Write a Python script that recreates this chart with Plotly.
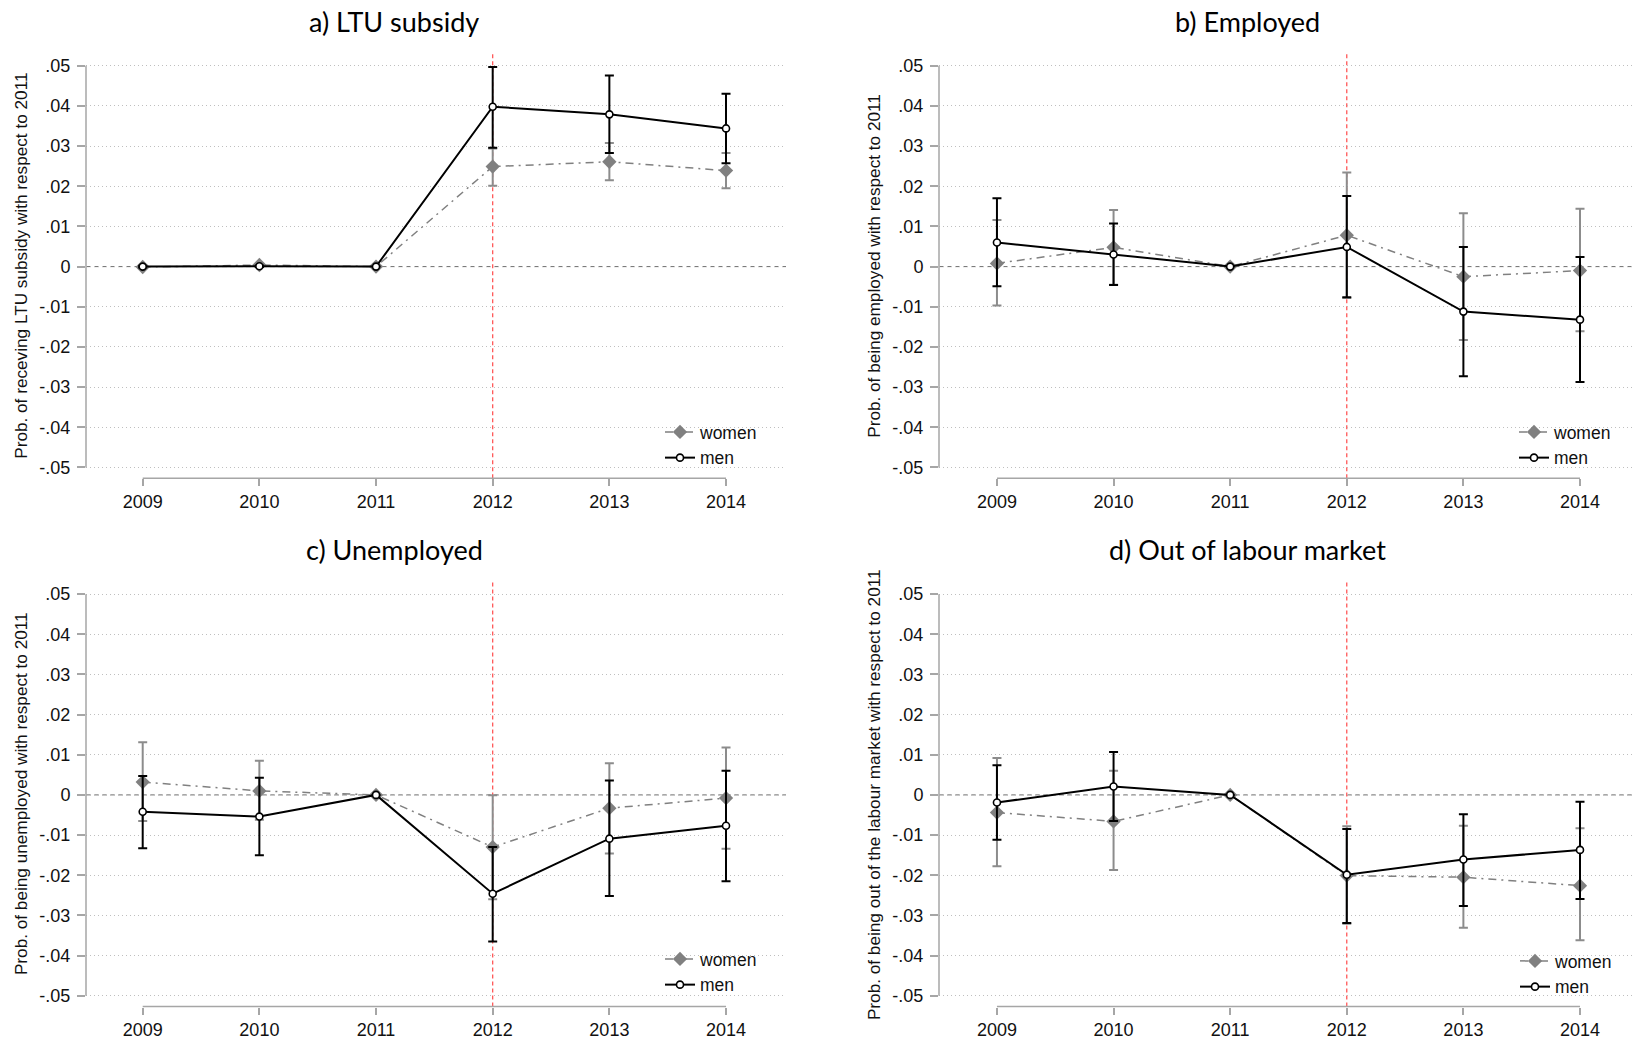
import math
import plotly.graph_objects as go

# ---------------------------------------------------------------------------
# Event-study estimates relative to 2011 (point estimate and 95% CI bounds)
# ---------------------------------------------------------------------------
years = [2009, 2010, 2011, 2012, 2013, 2014]

# a) LTU subsidy
ltu_women = [-0.0001, 0.0004, 0.0, 0.0249, 0.0261, 0.0239]
ltu_women_lo = [-0.0004, 0.0001, None, 0.0201, 0.0215, 0.0195]
ltu_women_hi = [0.0002, 0.0007, None, 0.0294, 0.0308, 0.0283]
ltu_men = [0.0, 0.0001, 0.0, 0.0398, 0.0379, 0.0344]
ltu_men_lo = [-0.0002, -0.0001, None, 0.0296, 0.0283, 0.0257]
ltu_men_hi = [0.0002, 0.0003, None, 0.0497, 0.0476, 0.0430]

# b) Employed
emp_women = [0.0008, 0.0048, 0.0, 0.0078, -0.0025, -0.0010]
emp_women_lo = [-0.0097, -0.0045, None, -0.0078, -0.0183, -0.0161]
emp_women_hi = [0.0116, 0.0141, None, 0.0234, 0.0133, 0.0144]
emp_men = [0.0060, 0.0030, 0.0, 0.0049, -0.0112, -0.0132]
emp_men_lo = [-0.0049, -0.0046, None, -0.0076, -0.0273, -0.0287]
emp_men_hi = [0.0170, 0.0107, None, 0.0176, 0.0049, 0.0024]

# c) Unemployed
unemp_women = [0.0032, 0.0010, 0.0, -0.0130, -0.0033, -0.0008]
unemp_women_lo = [-0.0065, -0.0062, None, -0.0260, -0.0146, -0.0134]
unemp_women_hi = [0.0131, 0.0085, None, -0.0001, 0.0079, 0.0118]
unemp_men = [-0.0042, -0.0054, 0.0, -0.0246, -0.0109, -0.0077]
unemp_men_lo = [-0.0133, -0.0150, None, -0.0365, -0.0252, -0.0215]
unemp_men_hi = [0.0047, 0.0043, None, -0.0130, 0.0036, 0.0060]

# d) Out of labour market
olm_women = [-0.0044, -0.0066, 0.0, -0.0201, -0.0205, -0.0226]
olm_women_lo = [-0.0178, -0.0187, None, -0.0321, -0.0331, -0.0362]
olm_women_hi = [0.0092, 0.0060, None, -0.0078, -0.0077, -0.0083]
olm_men = [-0.0019, 0.0021, 0.0, -0.0199, -0.0161, -0.0137]
olm_men_lo = [-0.0112, -0.0065, None, -0.0319, -0.0277, -0.0259]
olm_men_hi = [0.0074, 0.0107, None, -0.0085, -0.0048, -0.0017]

panel_titles = ["a) LTU subsidy", "b) Employed", "c) Unemployed", "d) Out of labour market"]
y_titles = [
    "Prob. of receving LTU subsidy with respect to 2011",
    "Prob. of being employed with respect to 2011",
    "Prob. of being unemployed with respect to 2011",
    "Prob. of being out of the labour market with respect to 2011",
]
y_tickvals = [0.05, 0.04, 0.03, 0.02, 0.01, 0.0, -0.01, -0.02, -0.03, -0.04, -0.05]
y_ticktext = [".05", ".04", ".03", ".02", ".01", "0", "-.01", "-.02", "-.03", "-.04", "-.05"]
x_ticktext = ["2009", "2010", "2011", "2012", "2013", "2014"]
reform_year = 2012

series = [
    (ltu_women, ltu_women_lo, ltu_women_hi, ltu_men, ltu_men_lo, ltu_men_hi),
    (emp_women, emp_women_lo, emp_women_hi, emp_men, emp_men_lo, emp_men_hi),
    (unemp_women, unemp_women_lo, unemp_women_hi, unemp_men, unemp_men_lo, unemp_men_hi),
    (olm_women, olm_women_lo, olm_women_hi, olm_men, olm_men_lo, olm_men_hi),
]

# ---------------------------------------------------------------------------
# Layout geometry (pixels on a 1633 x 1041 canvas)
# ---------------------------------------------------------------------------
W, H = 1633, 1041
TICK_FONT = "Liberation Sans, Arial, sans-serif"
TITLE_FONT = "Lato, Open Sans, sans-serif"

col_px = [(86, 786), (939, 1633)]
row_px = [(53.3, 478.3), (581.7, 1006.5)]
x_ranges = [[2008.514, 2014.514], [2008.503, 2014.4545]]
y_range = [-0.0527, 0.0531]
title_pos = [(394, 21), (1247, 21), (394, 549), (1247, 549)]
ytitle_x = [21, 874]
legend_text_px = [(702, 428), (1556, 428), (702, 955), (1557, 957)]

WOMEN_COL = "#808080"
MEN_COL = "#000000"
GRID_COL = "#bfbfbf"
AXIS_COL = "#a6a6a6"


def err(mean, lo, hi):
    plus, minus = [], []
    for m, l, h in zip(mean, lo, hi):
        if l is None or h is None:
            plus.append(math.nan)
            minus.append(math.nan)
        else:
            plus.append(h - m)
            minus.append(m - l)
    return plus, minus


fig = go.Figure()
shapes = []
annotations = []
layout = {}

for i, (w, wlo, whi, m, mlo, mhi) in enumerate(series):
    r, c = divmod(i, 2)
    n = "" if i == 0 else str(i + 1)
    xa, ya = "x" + n, "y" + n
    leg = "legend" + n

    wp, wm = err(w, wlo, whi)
    mp, mm = err(m, mlo, mhi)

    fig.add_trace(go.Scatter(
        x=years, y=w, name="women", xaxis=xa, yaxis=ya, legend=leg,
        mode="lines+markers",
        line=dict(color=WOMEN_COL, width=1.5, dash="8px,5px,2px,5px"),
        marker=dict(symbol="diamond", size=11, color=WOMEN_COL),
        error_y=dict(type="data", symmetric=False, array=wp, arrayminus=wm,
                     color="#8c8c8c", thickness=2, width=4.5),
    ))
    fig.add_trace(go.Scatter(
        x=years, y=m, name="men", xaxis=xa, yaxis=ya, legend=leg,
        mode="lines+markers",
        line=dict(color=MEN_COL, width=2),
        marker=dict(symbol="circle", size=7, color="white",
                    line=dict(color=MEN_COL, width=1.6)),
        error_y=dict(type="data", symmetric=False, array=mp, arrayminus=mm,
                     color=MEN_COL, thickness=2, width=4.5),
    ))

    x0, x1 = col_px[c]
    yt, yb = row_px[r]
    layout["xaxis" + n] = dict(
        domain=[x0 / W, x1 / W], range=x_ranges[c], anchor=ya,
        tickvals=years, ticktext=x_ticktext, ticks="outside", ticklen=7,
        tickwidth=1.5, tickcolor=AXIS_COL, showgrid=False, zeroline=False,
        showline=False, tickfont=dict(family=TICK_FONT, size=18, color="#111111"),
        ticklabelstandoff=0,
    )
    layout["yaxis" + n] = dict(
        domain=[1 - yb / H, 1 - yt / H], range=y_range, anchor=xa,
        tickvals=y_tickvals, ticktext=y_ticktext, ticks="outside", ticklen=8,
        tickwidth=1.5, tickcolor=AXIS_COL, showgrid=True, gridcolor=GRID_COL,
        gridwidth=1, griddash="1px,3px", zeroline=False, showline=False,
        tickfont=dict(family=TICK_FONT, size=18, color="#111111"),
        ticklabelstandoff=3,
    )

    # axis lines spanning only the labelled range
    shapes.append(dict(type="line", xref=xa + " domain", yref=ya, x0=0, x1=0,
                       y0=y_tickvals[-1], y1=y_tickvals[0],
                       line=dict(color=AXIS_COL, width=1.5)))
    shapes.append(dict(type="line", xref=xa, yref=ya + " domain", x0=years[0], x1=years[-1],
                       y0=0, y1=0, line=dict(color=AXIS_COL, width=1.5)))
    # reference line at zero
    shapes.append(dict(type="line", xref=xa + " domain", yref=ya, x0=0, x1=1, y0=0, y1=0,
                       layer="below", line=dict(color="#6e6e6e", width=1, dash="5px,3px")))
    # reform year
    shapes.append(dict(type="line", xref=xa, yref=ya + " domain", x0=reform_year, x1=reform_year,
                       y0=0, y1=1, layer="below",
                       line=dict(color="#ff4a4a", width=1.2, dash="4px,3px")))

    tx, ty = title_pos[i]
    annotations.append(dict(text=panel_titles[i], xref="paper", yref="paper",
                            x=tx / W, y=1 - ty / H, xanchor="center", yanchor="middle",
                            showarrow=False, font=dict(family=TITLE_FONT, size=27, color="#000000")))
    annotations.append(dict(text=y_titles[i], xref="paper", yref="paper", textangle=-90,
                            x=ytitle_x[c] / W, y=1 - (yt + yb) / 2 / H,
                            xanchor="center", yanchor="middle", showarrow=False,
                            font=dict(family=TICK_FONT, size=17.2, color="#111111")))

    lx, ly = legend_text_px[i]
    layout[leg] = dict(
        x=(lx - 42) / W, y=1 - (ly - 14) / H, xanchor="left", yanchor="top",
        bgcolor="rgba(0,0,0,0)", borderwidth=0, itemwidth=30,
        font=dict(family=TICK_FONT, size=17.5, color="#111111"),
        tracegroupgap=0,
    )

fig.update_layout(
    width=W, height=H, margin=dict(l=0, r=0, t=0, b=0),
    paper_bgcolor="white", plot_bgcolor="white",
    showlegend=True, shapes=shapes, annotations=annotations, **layout,
)

fig.write_html("out.html")
